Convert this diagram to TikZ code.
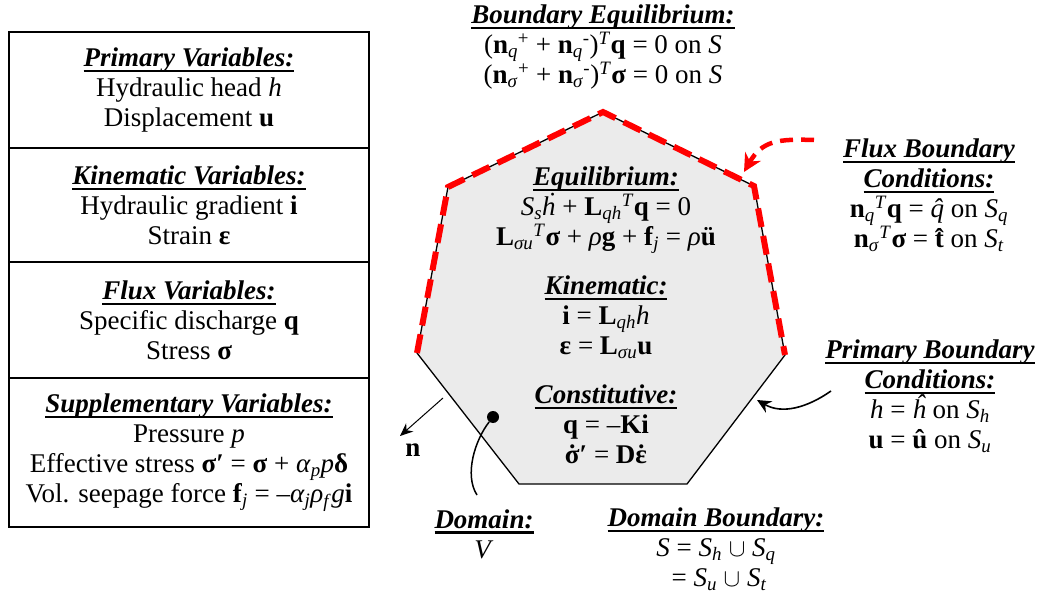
\documentclass[tikz,border=0pt]{standalone}
\usepackage{fontspec}
\setmainfont{Liberation Serif}
\usetikzlibrary{arrows.meta,positioning}
\newsavebox{\hdbox}
\newcommand{\hd}[1]{\sbox{\hdbox}{\textbf{\textit{#1}}}\rlap{\rule[-5.5pt]{\wd\hdbox}{2.2pt}}\usebox{\hdbox}}
\newcommand{\vect}[1]{\textbf{#1}}
\newcommand{\vi}[1]{\textit{#1}}
\newcommand{\lo}[1]{\textsubscript{\textit{#1}}}
\newcommand{\hi}[1]{\textsuperscript{#1}}
\newcommand{\dotover}[1]{\ooalign{#1\cr\hidewidth\char"02D9\hidewidth\cr}}
\newcommand{\hatover}[1]{\ooalign{#1\cr\hidewidth\char"02C6\hidewidth\cr}}

\begin{document}
\begin{tikzpicture}[x=1pt, y=-1pt,
  every node/.style={align=center, inner sep=0pt, font=\fontsize{27}{30}\selectfont},
  varbox/.style={draw, line width=1.8pt, outer sep=0pt, minimum width=360pt},
  edgeline/.style={draw=black, line width=1.3pt},
  fluxline/.style={red, line width=6pt, dash pattern=on 19pt off 9pt},
  fluxarrow/.style={red, line width=4.5pt, dash pattern=on 13pt off 8pt, -{Stealth[length=18pt,width=18pt]}},
  bcarrow/.style={line width=1.6pt, -{Stealth[length=14pt,width=13pt]}},
  narrow/.style={line width=1pt, -{Stealth[length=13pt,width=11pt]}}
]
\useasboundingbox (0,0) rectangle (1042,596);

% variables table
\node[varbox, minimum height=116pt] (pv) at (189,90)
  {\hd{Primary Variables:}\\Hydraulic head \vi{h}\\Displacement \vect{u}};
\node[varbox, minimum height=114pt, below=0pt of pv] (kv)
  {\hd{Kinematic Variables:}\\Hydraulic gradient \vect{i}\\Strain \vect{ε}};
\node[varbox, minimum height=116pt, below=0pt of kv] (fv)
  {\hd{Flux Variables:}\\Specific discharge \vect{q}\\Stress \vect{σ}};
\node[varbox, minimum height=149pt, below=0pt of fv] (sv)
  {\hd{Supplementary Variables:}\\Pressure \vi{p}\\
   Effective stress \vect{σ′} = \vect{σ} + \vi{α}\lo{p}\vi{p}\vect{δ}\\
   Vol. seepage force \vect{f}\lo{j} = --\vi{α}\lo{j}\vi{ρ}\lo{f}\vi{g}\vect{i}};

% domain
\coordinate (vL) at (417,353);
\coordinate (vUL) at (448,187);
\coordinate (vT) at (603,112);
\coordinate (vUR) at (754,186);
\coordinate (vR) at (785,355);
\coordinate (vBR) at (687,484);
\coordinate (vBL) at (519,484);
\filldraw[fill=black!8, edgeline] (vL) -- (vUL) -- (vT) -- (vUR) -- (vR) -- (vBR) -- (vBL) -- cycle;
\draw[fluxline] (vL) -- (vUL) -- (vT) -- (vUR) -- (vR);

\node (beq) at (603,47)
  {\hd{Boundary Equilibrium:}\\
   (\vect{n}\lo{q}\hi{+} + \vect{n}\lo{q}\hi{-})\hi{\vi{T}}\vect{q} = 0 on \vi{S}\\
   (\vect{n}\lo{σ}\hi{+} + \vect{n}\lo{σ}\hi{-})\hi{\vi{T}}\vect{σ} = 0 on \vi{S}};
\node (equil) at (606,210)
  {\hd{Equilibrium:}\\
   \vi{S}\lo{s}\vi{ḣ} + \vect{L}\lo{qh}\hi{\vi{T}}\vect{q} = 0\\
   \vect{L}\lo{σu}\hi{\vi{T}}\vect{σ} + \vi{ρ}\vect{g} + \vect{f}\lo{j} = \vi{ρ}\vect{ü}};
\node (kin) at (606,317)
  {\hd{Kinematic:}\\\vect{i} = \vect{L}\lo{qh}\vi{h}\\\vect{ε} = \vect{L}\lo{σu}\vect{u}};
\node (cons) at (606,424)
  {\hd{Constitutive:}\\\vect{q} = --\vect{Ki}\\\vect{\dotover{σ}′} = \vect{D\dotover{ε}}};

\node (fbc) at (929,195)
  {\hd{Flux Boundary}\\\hd{Conditions:}\\
   \vect{n}\lo{q}\hi{\vi{T}}\vect{q} = \vi{\hatover{q}} on \vi{S}\lo{q}\\
   \vect{n}\lo{σ}\hi{\vi{T}}\vect{σ} = \vect{\hatover{t}} on \vi{S}\lo{t}};
\node (pbc) at (930,396)
  {\hd{Primary Boundary}\\\hd{Conditions:}\\
   \vi{h} = \vi{ĥ} on \vi{S}\lo{h}\\
   \vect{u} = \vect{û} on \vi{S}\lo{u}};
\node (dom) at (484,534) {\hd{Domain:}\\\vi{V}};
\node (dbd) at (716,549)
  {\hd{Domain Boundary:}\\
   \vi{S} = \vi{S}\lo{h} $\cup$ \vi{S}\lo{q}\hspace*{14pt}\\
   \phantom{\vi{S}} = \vi{S}\lo{u} $\cup$ \vi{S}\lo{t}\hspace*{14pt}};

% connectors
\coordinate (fluxtail) at (814,140);
\coordinate (fluxtip) at (744,172);
\draw[fluxarrow] (fluxtail) to[out=178, in=60, looseness=1.2] (fluxtip);
\coordinate (pbctail) at (831,391);
\coordinate (pbctip) at (757,400);
\draw[bcarrow] (pbctail) to[out=215, in=-30] (pbctip);
\coordinate (ntail) at (443,398);
\coordinate (ntip) at (400,436);
\draw[narrow] (ntail) -- (ntip);
\node (nlbl) at (413,450) {\vect{n}};
\node[circle, fill, minimum size=12pt] (dot) at (493,417) {};
\coordinate (domtail) at (477,495);
\draw[line width=1.5pt] (dot) .. controls (475,440) and (464,475) .. (domtail);
\end{tikzpicture}
\end{document}
